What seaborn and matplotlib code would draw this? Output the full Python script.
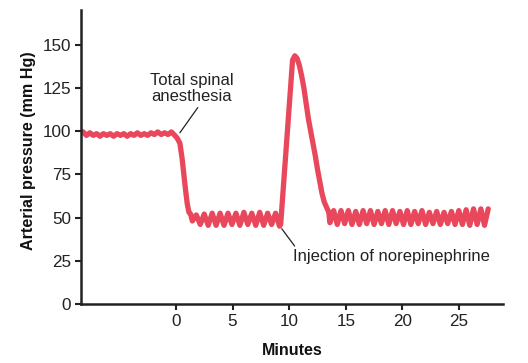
import matplotlib
matplotlib.use("Agg")
import matplotlib.pyplot as plt
import seaborn as sns
import pandas as pd

# ---- data (minutes, mm Hg) ----
baseline_x = [-8.4, -8.2, -7.9, -7.6, -7.3, -7.0, -6.7, -6.4, -6.1, -5.8, -5.5, -5.2, -4.9, -4.6,
              -4.3, -4.0, -3.7, -3.4, -3.1, -2.8, -2.5, -2.2, -1.9, -1.6, -1.3, -1.0, -0.7, -0.4, -0.1]
baseline_y = [100, 99.5, 97.5, 99, 97.5, 98.5, 97, 98.5, 97.5, 98.5, 97, 98.5, 97.5, 98.5,
              97, 98.5, 97.5, 99, 97.5, 98.5, 97.5, 99, 98, 99.5, 98, 99, 98, 99.5, 97.5]

drop_x = [0.1, 0.35, 0.55, 0.7, 0.85, 1.0, 1.15, 1.3]
drop_y = [96, 93, 84, 75, 66, 58, 53, 52]

low1_x = [1.45, 1.8, 2.15, 2.5, 2.85, 3.2, 3.55, 3.9, 4.25, 4.6, 4.95, 5.3, 5.65, 6.0,
          6.35, 6.7, 7.05, 7.4, 7.75, 8.1, 8.45, 8.8, 9.15]
low1_y = [48, 51.5, 46, 52, 45.5, 52.5, 45.5, 52.5, 45.5, 52.5, 46, 52.5, 45.5, 53,
          46, 52.5, 45.5, 53, 45.5, 52.5, 46, 52.5, 45]

surge_x = [9.25, 10.3, 10.5, 10.7, 10.9, 11.1, 11.3, 11.5, 11.7, 11.9, 12.1, 12.3, 12.5,
           12.7, 12.9, 13.1, 13.3, 13.5]
surge_y = [46, 141, 143.5, 142, 138, 132, 125, 116, 107, 100, 93, 86, 78,
           71, 64, 59, 56, 53]

low2_x = [13.6, 13.93, 14.25, 14.58, 14.9, 15.23, 15.55, 15.88, 16.2, 16.53, 16.85, 17.18,
          17.5, 17.83, 18.15, 18.48, 18.8, 19.13, 19.45, 19.78, 20.1, 20.43, 20.75, 21.08,
          21.4, 21.73, 22.05, 22.38, 22.7, 23.03, 23.35, 23.68, 24.0, 24.33, 24.65, 24.98,
          25.3, 25.63, 25.95, 26.28, 26.6, 26.93, 27.25, 27.58]
low2_y = [47, 54, 46, 54, 46.5, 54, 46, 53.5, 46, 54, 46.5, 54,
          46, 53.5, 46.5, 54, 46, 54, 46.5, 53.5, 46, 54, 46, 53.5,
          46.5, 54, 46, 53, 46.5, 53.5, 46, 53, 46.5, 53.5, 46, 54,
          46, 54.5, 45.5, 55, 46, 55, 45.5, 55]

x_ticks = [0, 5, 10, 15, 20, 25]
y_ticks = [0, 25, 50, 75, 100, 125, 150]

df = pd.DataFrame({
    "Minutes": baseline_x + drop_x + low1_x + surge_x + low2_x,
    "Pressure": baseline_y + drop_y + low1_y + surge_y + low2_y,
})

sns.set_style("ticks")
plt.rcParams["font.family"] = ["Liberation Sans", "DejaVu Sans"]

fig = plt.figure(figsize=(5.28, 3.63), dpi=100)
ax = fig.add_axes([0.153, 0.1625, 0.80, 0.81])

sns.lineplot(data=df, x="Minutes", y="Pressure", sort=False, estimator=None,
             color="#E8475C", linewidth=3.8, ax=ax,
             solid_joinstyle="round", solid_capstyle="round")

ax.set_xlim(-8.4, 28.9)
ax.set_ylim(0, 170)
ax.set_xticks(x_ticks)
ax.set_yticks(y_ticks)
ax.tick_params(axis="both", labelsize=12.3, length=4, width=1.5, color="#222222",
               labelcolor="#222222", pad=3)
for side in ["top", "right"]:
    ax.spines[side].set_visible(False)
for side in ["left", "bottom"]:
    ax.spines[side].set_linewidth(1.8)
    ax.spines[side].set_color("#222222")

ax.set_xlabel("Minutes", fontsize=11.5, fontweight="bold", color="#111111", labelpad=10)
ax.set_ylabel("Arterial pressure (mm Hg)", fontsize=11.6, fontweight="bold",
              color="#111111", labelpad=7)
ax.yaxis.set_label_coords(-0.105, 0.52)

ax.annotate("Total spinal\nanesthesia", xy=(0.35, 99), xytext=(1.4, 124.5),
            ha="center", va="center", fontsize=12, color="#222222", linespacing=1.1,
            arrowprops=dict(arrowstyle="-", color="#222222", lw=0.9,
                            shrinkA=0, shrinkB=0, relpos=(0.6, 0.0)))
ax.annotate("Injection of norepinephrine", xy=(9.35, 43.5), xytext=(10.35, 27.3),
            ha="left", va="center", fontsize=12, color="#222222",
            arrowprops=dict(arrowstyle="-", color="#222222", lw=0.9,
                            shrinkA=0, shrinkB=0, relpos=(0.02, 1.0)))

fig.savefig("out.png", dpi=100)
